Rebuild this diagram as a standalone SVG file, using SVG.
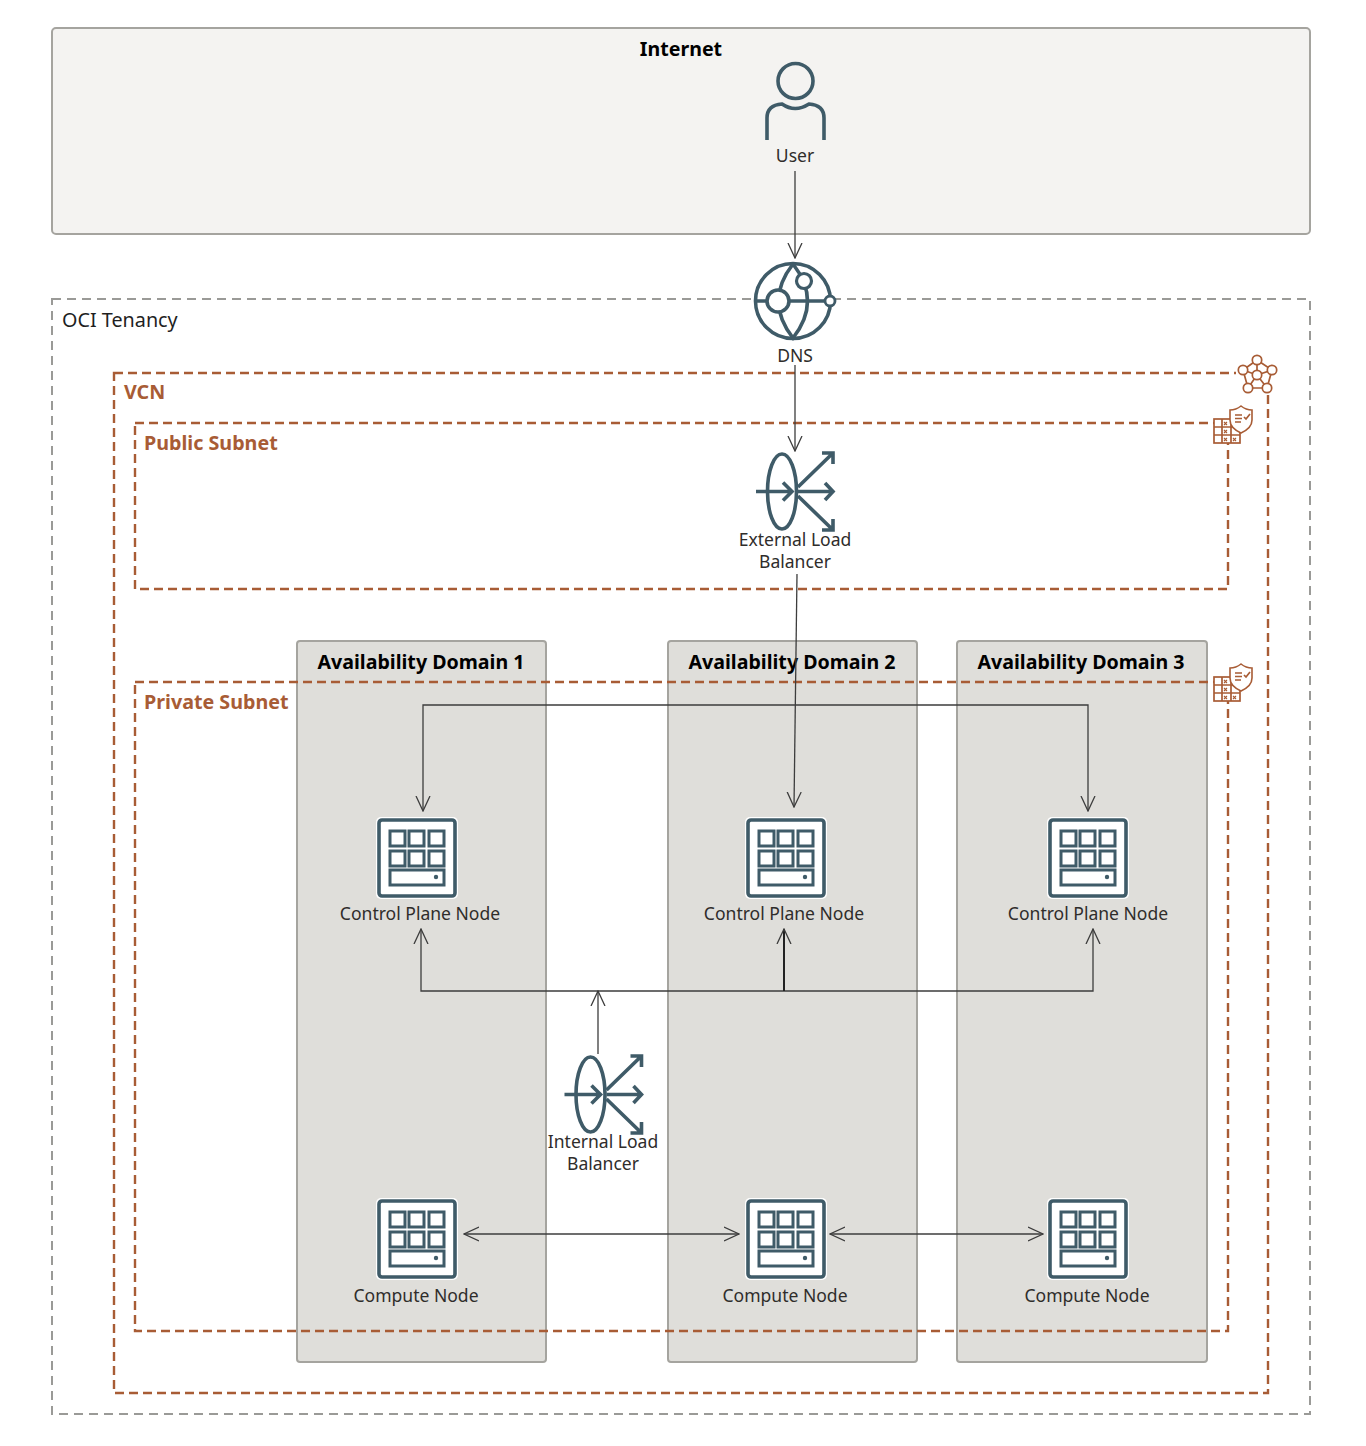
<svg xmlns="http://www.w3.org/2000/svg" width="1366" height="1446" viewBox="0 0 1366 1446">
<style>
text{font-family:"Noto Sans","Open Sans","Liberation Sans",sans-serif;fill:#2f2d2b}
.lbl{font-size:17.55px;text-anchor:middle}
.hd{font-size:19.6px;font-weight:700;text-anchor:middle;fill:#000}
.sub{font-size:19.7px;font-weight:700;fill:#a85c35}
.ad{fill:#dfdeda;stroke:#a5a49f;stroke-width:2}
.dash{fill:none;stroke:#a85c35;stroke-width:2.4;stroke-dasharray:9 5}
.ic{fill:none;stroke:#3f5b68;stroke-width:3.6}
.or{fill:none;stroke:#a85c35;stroke-width:1.7}
.cn{fill:none;stroke:#3d3d3d;stroke-width:1.3}
</style>
<defs>
<marker id="a" viewBox="0 0 16 24" refX="15" refY="12" markerWidth="16" markerHeight="24" markerUnits="userSpaceOnUse" orient="auto-start-reverse"><path d="M0 5L15 12L0 19" fill="none" stroke="#3d3d3d" stroke-width="1.3"/></marker>
<g id="srv">
<rect x="-1" y="-1" width="82" height="82" rx="5" fill="#fff"/>
<rect x="2" y="2" width="76" height="76" rx="3" fill="#fff" stroke="#3f5b68" stroke-width="3.6"/>
<g fill="none" stroke="#3f5b68" stroke-width="3">
<rect x="13" y="13" width="15" height="15"/><rect x="32" y="13" width="15" height="15"/><rect x="52" y="13" width="15" height="15"/>
<rect x="13" y="33" width="15" height="15"/><rect x="32" y="33" width="15" height="15"/><rect x="52" y="33" width="15" height="15"/>
<rect x="13" y="52" width="54" height="15"/>
</g>
<circle cx="59" cy="59" r="2.2" fill="#3f5b68"/>
</g>
<g id="lb">
<ellipse cx="27" cy="38.500" rx="14.500" ry="37.500" class="ic"/>
<path d="M1 38.500H37M28 29.500L37 38.500L28 47.500" class="ic"/>
<path d="M43 38.500H78M70 30L78 38.500L70 47M43 34L78 0M67 0H78V11M43 43L78 77M67 77H78V66" class="ic"/>
</g>
<g id="shield">
<rect x="1" y="14" width="26" height="24" fill="#fff" stroke="#a85c35" stroke-width="1.7"/>
<path d="M1 22H27M1 30H27M9 14V38M18 14V38" class="or"/>
<path d="M11 17l3 3m0-3l-3 3M11 25l3 3m0-3l-3 3M11 33l3 3m0-3l-3 3M20 33l3 3m0-3l-3 3" stroke="#a85c35" stroke-width="1.1" fill="none"/>
<path d="M17 5Q23 5 28 1Q33 5 39 5V15Q39 23 28 28Q17 23 17 15Z" fill="#fff" stroke="#a85c35" stroke-width="1.6"/>
<path d="M22 10H29M22 13.500H29M22 17H28M31 12L33 14L37 9" class="or" stroke-width="1.2"/>
</g>
</defs>

<g id="internet">
<rect x="52" y="28" width="1258" height="206" rx="4" fill="#f4f3f1" stroke="#a5a49f" stroke-width="2"/>
<text class="hd" x="681" y="56">Internet</text>
</g>
<g id="tenancy">
<rect x="52" y="299" width="1258" height="1115" fill="none" stroke="#9a9a97" stroke-width="2" stroke-dasharray="9 6"/>
<text x="62" y="327" font-size="19.8" style="fill:#1f1f1f">OCI Tenancy</text>
</g>
<g id="ad1"><rect class="ad" x="297" y="641" width="249" height="721" rx="3"/><text class="hd" x="421" y="669">Availability Domain 1</text></g>
<g id="ad2"><rect class="ad" x="668" y="641" width="249" height="721" rx="3"/><text class="hd" x="792" y="669">Availability Domain 2</text></g>
<g id="ad3"><rect class="ad" x="957" y="641" width="250" height="721" rx="3"/><text class="hd" x="1081" y="669">Availability Domain 3</text></g>
<g id="vcn">
<rect class="dash" x="114" y="373" width="1154" height="1020"/>
<text class="sub" x="124" y="399">VCN</text>
<g id="vcn-icon" class="or">
<rect x="1236" y="353" width="44" height="42" fill="#fff" stroke="none"/>
<path d="M1257 360L1243 370M1257 360L1272 370M1243 370L1248 388M1272 370L1267 388M1248 388H1267M1257 360V375M1243 370L1257 375M1272 370L1257 375M1248 388L1257 375M1267 388L1257 375"/>
<g fill="#fff"><circle cx="1257" cy="360" r="4.700"/><circle cx="1243" cy="370" r="4.700"/><circle cx="1272" cy="370" r="4.700"/><circle cx="1248" cy="388" r="4.700"/><circle cx="1267" cy="388" r="4.700"/><circle cx="1257" cy="375" r="4.700"/></g>
</g>
</g>
<g id="public-subnet">
<rect class="dash" x="135" y="423" width="1093" height="166"/>
<text class="sub" x="144" y="450">Public Subnet</text>
<use href="#shield" x="1213" y="405"/>
</g>
<g id="private-subnet">
<rect class="dash" x="135" y="682" width="1093" height="649"/>
<text class="sub" x="144" y="709">Private Subnet</text>
<use href="#shield" x="1213" y="663"/>
</g>

<g id="connectors">
<path class="cn" d="M795 171V258" marker-end="url(#a)"/>
<path class="cn" d="M795 365V451" marker-end="url(#a)"/>
<path class="cn" d="M797 574L794 807" marker-end="url(#a)"/>
<path class="cn" d="M423 811V705H1088V811" marker-start="url(#a)" marker-end="url(#a)"/>
<path class="cn" d="M421 929V991H1093V929" marker-start="url(#a)" marker-end="url(#a)"/>
<path class="cn" d="M784 991V929" style="stroke-width:2;stroke:#222" marker-end="url(#a)"/>
<path class="cn" d="M598 1054V991" marker-end="url(#a)"/>
<path class="cn" d="M464 1234H739" marker-start="url(#a)" marker-end="url(#a)"/>
<path class="cn" d="M830 1234H1043" marker-start="url(#a)" marker-end="url(#a)"/>
</g>

<g id="user">
<rect x="762" y="60" width="68" height="82" fill="#f4f3f1"/>
<circle cx="795.500" cy="81" r="17.500" class="ic"/>
<path d="M767 140V118Q767 105 782 104Q795 113 809 104Q824 105 824 118V140" class="ic"/>
<text class="lbl" x="795" y="162">User</text>
</g>
<g id="dns">
<circle cx="793" cy="301" r="41" fill="#fff"/>
<circle cx="793" cy="301" r="37.500" class="ic"/>
<path d="M793 264Q764 301 793 338Q822 301 793 264M755 301H825" class="ic"/>
<circle cx="778" cy="301" r="11" fill="#fff" stroke="#3f5b68" stroke-width="3.600"/>
<circle cx="804" cy="281" r="7.500" fill="#fff" stroke="#3f5b68" stroke-width="3.200"/>
<circle cx="830" cy="301" r="5" fill="#fff" stroke="#3f5b68" stroke-width="2.800"/>
<text class="lbl" x="795" y="362">DNS</text>
</g>
<g id="external-lb">
<use href="#lb" x="755" y="453"/>
<text class="lbl" x="795" y="546">External Load</text>
<text class="lbl" x="795" y="568">Balancer</text>
</g>
<g id="internal-lb">
<use href="#lb" x="563.500" y="1056"/>
<text class="lbl" x="603" y="1148">Internal Load</text>
<text class="lbl" x="603" y="1170">Balancer</text>
</g>
<g id="cp1"><use href="#srv" x="377" y="818"/><text class="lbl" x="420" y="920">Control Plane Node</text></g>
<g id="cp2"><use href="#srv" x="746" y="818"/><text class="lbl" x="784" y="920">Control Plane Node</text></g>
<g id="cp3"><use href="#srv" x="1048" y="818"/><text class="lbl" x="1088" y="920">Control Plane Node</text></g>
<g id="cn1"><use href="#srv" x="377" y="1199"/><text class="lbl" x="416" y="1302">Compute Node</text></g>
<g id="cn2"><use href="#srv" x="746" y="1199"/><text class="lbl" x="785" y="1302">Compute Node</text></g>
<g id="cn3"><use href="#srv" x="1048" y="1199"/><text class="lbl" x="1087" y="1302">Compute Node</text></g>
</svg>
